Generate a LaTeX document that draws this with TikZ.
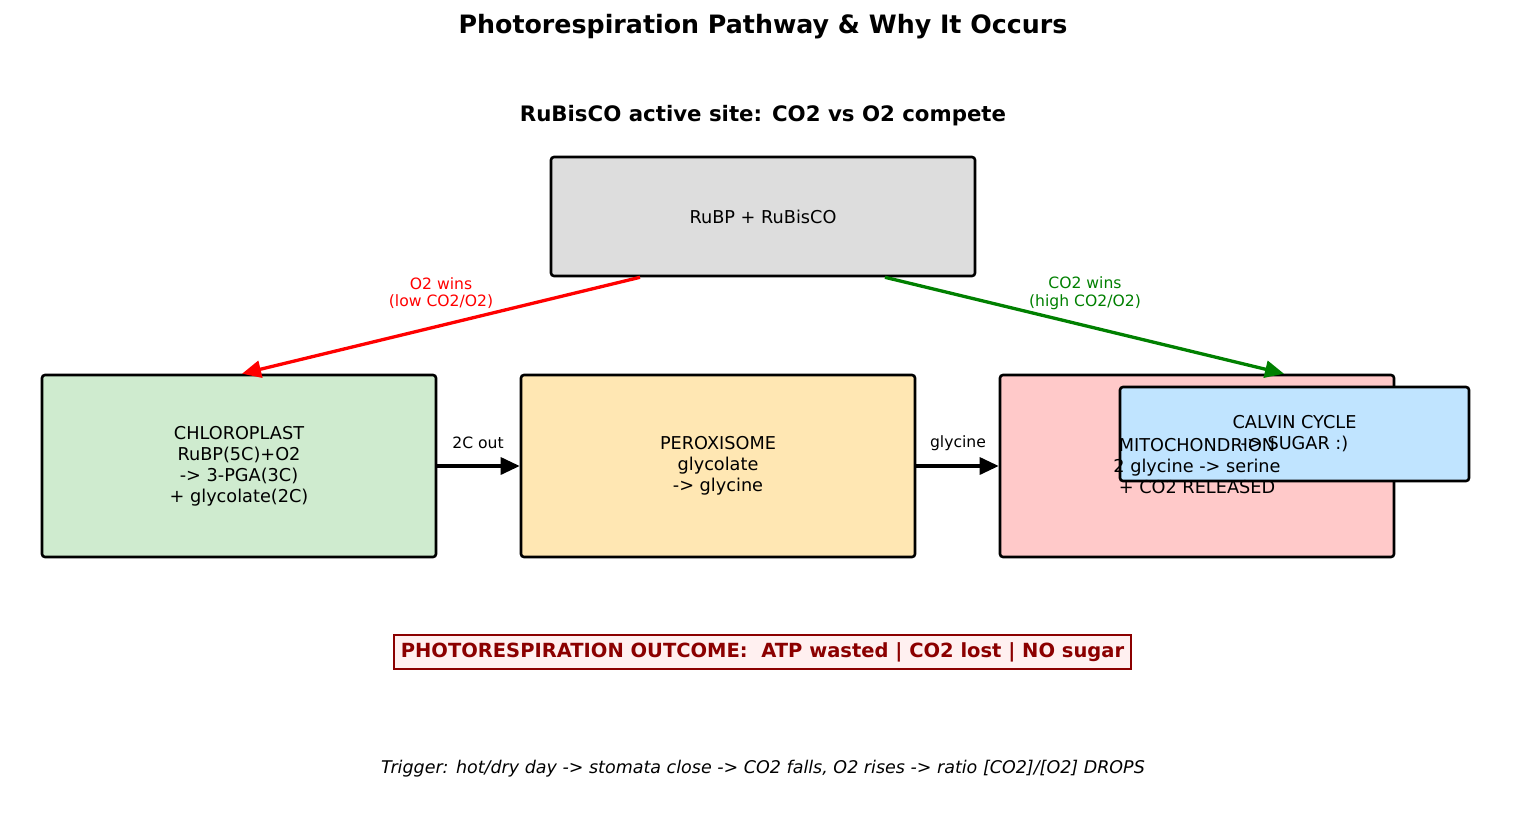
\documentclass[tikz,border=0pt]{standalone}
\usepackage{fontspec}
\setmainfont{DejaVu Sans}
\usetikzlibrary{arrows.meta}
\definecolor{boxgray}{HTML}{DDDDDD}
\definecolor{boxgreen}{HTML}{CFEBCF}
\definecolor{boxorange}{HTML}{FFE7B3}
\definecolor{boxred}{HTML}{FFC9C9}
\definecolor{boxblue}{HTML}{C0E4FF}
\definecolor{outfill}{HTML}{FFF0F0}
\definecolor{darkred}{HTML}{8B0000}
\definecolor{mplgreen}{HTML}{008000}
\newcommand{\fs}[2]{\fontsize{#1}{#2}\selectfont}
\tikzset{
  boxstyle/.style={draw=black, line width=2.6pt, rounded corners=3pt, inner sep=0pt},
  flow/.style={line width=3.3pt, -{Triangle[length=19pt,width=17pt]}},
  boxtext/.style={align=center, font=\fs{17.7}{21}},
  lbl/.style={align=center, font=\fs{15.6}{17.8}}
}
\begin{document}
\begin{tikzpicture}[x=1pt,y=-1pt]
\useasboundingbox[fill=white] (0,0) rectangle (1525,825);
\node[font=\bfseries\fs{25.3}{29}] (title) at (763,27) {Photorespiration Pathway \& Why It Occurs};
\node[font=\bfseries\fs{21.3}{25}] (sub) at (763,116) {RuBisCO active site: CO2 vs O2 compete};

\node[boxstyle, fill=boxgray, minimum width=424, minimum height=119, boxtext] (top) at (763,216.5) {RuBP + RuBisCO};
\node[boxstyle, fill=boxgreen, minimum width=394, minimum height=182, boxtext] (chl) at (239,466) {CHLOROPLAST\\RuBP(5C)+O2\\-> 3-PGA(3C)\\+ glycolate(2C)};
\node[boxstyle, fill=boxorange, minimum width=394, minimum height=182, boxtext] (per) at (718,466) {PEROXISOME\\glycolate\\-> glycine};
\node[boxstyle, fill=boxred, minimum width=394, minimum height=182] (mito) at (1197,466) {};
\node[boxstyle, fill=boxblue, minimum width=349, minimum height=94, boxtext] (calvin) at (1294.5,434) {CALVIN CYCLE\\-> SUGAR :)};
\node[boxtext] (mitotext) at (mito.center) {MITOCHONDRION\\2 glycine -> serine\\+ CO2 RELEASED};

\draw[flow, red] ([xshift=-123pt]top.south) -- ([xshift=3pt]chl.north);
\draw[flow, mplgreen] ([xshift=122pt]top.south) -- ([xshift=87pt]mito.north);
\node[lbl, text=red] (o2lbl) at (441,293) {O2 wins\\(low CO2/O2)};
\node[lbl, text=mplgreen] (co2lbl) at (1085,293) {CO2 wins\\(high CO2/O2)};

\draw[flow, black] (chl.east) -- (per.west);
\draw[flow, black] (per.east) -- (mito.west);
\node[lbl] (l1) at (478,443) {2C out};
\node[lbl] (l2) at (958,443) {glycine};

\node[draw=darkred, line width=1.6pt, fill=outfill, minimum width=737, minimum height=34, inner sep=0pt, text=darkred, font=\bfseries\fs{19.5}{22}] (out) at (762.5,652) {PHOTORESPIRATION OUTCOME:\ \ ATP wasted | CO2 lost | NO sugar};
\node[font=\itshape\fs{17.5}{20}] (trig) at (763,769) {Trigger: hot/dry day -> stomata close -> CO2 falls, O2 rises -> ratio [CO2]/[O2] DROPS};
\end{tikzpicture}
\end{document}
